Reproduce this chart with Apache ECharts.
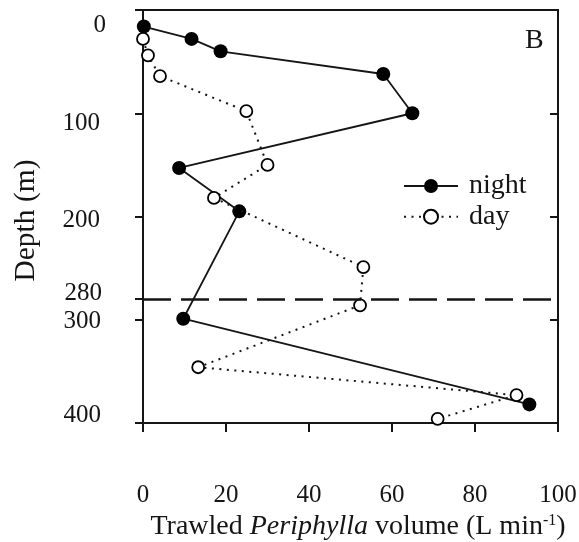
<!DOCTYPE html>
<html>
<head>
<meta charset="utf-8">
<script src="https://cdn.jsdelivr.net/npm/echarts@6/dist/echarts.min.js"></script>
<style>
  html, body { margin: 0; padding: 0; background: #fff; }
  #chart { width: 579px; height: 542px; }
</style>
</head>
<body>
<div id="chart"></div>
<script>
// Trawled Periphylla volume (L min-1) by depth, night and day hauls
const nightVolume = [0.2, 11.7, 18.7, 57.9, 64.9, 8.7, 23.2, 9.7, 93.1];
const nightDepth  = [16, 28, 40, 62, 100, 153, 195, 299, 382];
const dayVolume   = [0, 1.2, 4.1, 24.9, 30.0, 17.1, 53.1, 52.3, 13.3, 90.0, 71.0];
const dayDepth    = [28, 44, 64, 98, 150, 182, 249, 286, 346, 373, 396];

const depthLabels  = [0, 100, 200, 280, 300, 400];
const depthTicks   = [0, 100, 200, 280, 300, 400];
const rightTicks   = [100, 200, 300];
const volumeLabels = [0, 20, 40, 60, 80, 100];
const boundaryDepth = 280;
const seriesNames = ['night', 'day'];
const panelLetter = 'B';

const FONT = 'Liberation Serif';
const INK = '#151515';

// small per-label nudges on the depth axis [top, right, bottom, left]
const depthLabelPad = {
  0:   [30, 0, 0, 0],
  100: [20, 6, 0, 0],
  200: [7, 6, 0, 0],
  280: [0, 4, 11, 0],
  300: [4, 5, 0, 0],
  400: [0, 5, 15, 0]
};
const depthRich = {};
depthLabels.forEach(v => {
  depthRich['d' + v] = { fontFamily: FONT, fontSize: 25, color: INK, padding: depthLabelPad[v] };
});

const zip = (xs, ys) => xs.map((x, i) => [x, ys[i]]);

const chart = echarts.init(document.getElementById('chart'), null, { renderer: 'canvas' });

chart.setOption({
  animation: false,
  backgroundColor: '#fff',
  grid: {
    left: 143, right: 21, top: 10, bottom: 119,
    outerBoundsMode: 'none', containLabel: false,
    show: true, borderColor: INK, borderWidth: 2, backgroundColor: 'transparent'
  },
  xAxis: [{
    type: 'value', position: 'bottom',
    min: 0, max: 100, interval: 20,
    splitLine: { show: false },
    axisLine: { show: true, onZero: false, lineStyle: { color: INK, width: 2 } },
    axisTick: { show: true, inside: false, length: 9, lineStyle: { color: INK, width: 2 } },
    axisLabel: {
      margin: 60, fontFamily: FONT, fontSize: 25, color: INK,
      customValues: volumeLabels
    },
    name: '{r|Trawled }{i|Periphylla}{r| volume (L min}{s|-1}{r|)}',
    nameLocation: 'middle', nameGap: 83,
    nameTextStyle: {
      padding: [0, 0, 0, 15],
      rich: {
        r: { fontFamily: FONT, fontSize: 28, color: INK },
        i: { fontFamily: FONT, fontSize: 28, fontStyle: 'italic', color: INK },
        s: { fontFamily: FONT, fontSize: 16, color: INK, verticalAlign: 'top' }
      }
    }
  }],
  yAxis: [{
    type: 'value', position: 'left', inverse: true,
    min: 0, max: 400,
    splitLine: { show: false },
    axisLine: { show: true, onZero: false, lineStyle: { color: INK, width: 2 } },
    axisTick: { show: true, inside: false, length: 8, customValues: depthTicks, lineStyle: { color: INK, width: 2 } },
    axisLabel: {
      margin: 37,
      customValues: depthLabels,
      formatter: v => '{d' + v + '|' + v + '}',
      rich: depthRich
    },
    name: 'Depth (m)', nameLocation: 'middle', nameRotate: 90, nameGap: 102,
    nameTextStyle: { fontFamily: FONT, fontSize: 29.5, color: INK, padding: [0, 8, 0, 0] }
  }, {
    type: 'value', position: 'right', inverse: true,
    min: 0, max: 400,
    splitLine: { show: false },
    axisLine: { show: true, onZero: false, lineStyle: { color: INK, width: 2 } },
    axisTick: { show: true, inside: true, length: 8, customValues: rightTicks, lineStyle: { color: INK, width: 2 } },
    axisLabel: { show: false }
  }],
  legend: {
    data: seriesNames,
    orient: 'vertical', left: 403, top: 170.6, padding: 0,
    itemWidth: 54, itemHeight: 17.5, itemGap: 0,
    selectedMode: false,
    textStyle: { fontFamily: FONT, fontSize: 28, color: INK, lineHeight: 30.7, padding: [0, 0, 0, 6] }
  },
  graphic: [{
    type: 'text', left: 525, top: 27,
    style: { text: panelLetter, fontFamily: FONT, fontSize: 28, fill: INK }
  }],
  series: [{
    name: seriesNames[0], type: 'line',
    xAxisIndex: 0, yAxisIndex: 0,
    data: zip(nightVolume, nightDepth),
    clip: false,
    symbol: 'circle', symbolSize: 14,
    itemStyle: { color: '#000' },
    lineStyle: { color: INK, width: 1.8 },
    markLine: {
      silent: true, symbol: ['none', 'none'],
      label: { show: false },
      lineStyle: { color: INK, width: 2.5, type: [28, 10] },
      data: [{ yAxis: boundaryDepth }]
    },
    z: 3
  }, {
    name: seriesNames[1], type: 'line',
    xAxisIndex: 0, yAxisIndex: 0,
    data: zip(dayVolume, dayDepth),
    clip: false,
    symbol: 'circle', symbolSize: 12,
    itemStyle: { color: '#fff', borderColor: '#000', borderWidth: 1.8 },
    lineStyle: { color: INK, width: 2, type: [2, 5.5] },
    z: 4
  }]
});
</script>
</body>
</html>
